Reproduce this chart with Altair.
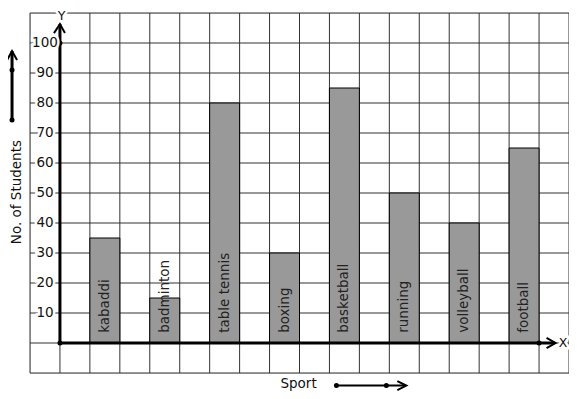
import altair as alt
import pandas as pd

sports = ["kabaddi", "badminton", "table tennis", "boxing", "basketball",
          "running", "volleyball", "football"]
students = [35, 15, 80, 30, 85, 50, 40, 65]
y_ticks = [10, 20, 30, 40, 50, 60, 70, 80, 90, 100]
grid_x = list(range(-1, 18))
grid_y = list(range(-10, 111, 10))

FONT = "DejaVu Sans"

bars = pd.DataFrame({
    "sport": sports,
    "students": students,
    "x0": [1 + 2 * i for i in range(len(sports))],
})
bars["x1"] = bars["x0"] + 1
bars["xc"] = bars["x0"] + 0.5
bars["base"] = 0
bars["ty"] = 3.4

xs = alt.Scale(domain=[-1, 17], nice=False, zero=False)
ys = alt.Scale(domain=[-10, 110], nice=False, zero=False)

X = lambda f: alt.X(f, scale=xs, axis=None)
Y = lambda f: alt.Y(f, scale=ys, axis=None)

vgrid = alt.Chart(pd.DataFrame({"g": grid_x})).mark_rule(color="#333333", strokeWidth=1).encode(
    x=X("g:Q"), y=alt.value(0), y2=alt.value(360))
hgrid = alt.Chart(pd.DataFrame({"g": grid_y})).mark_rule(color="#333333", strokeWidth=1).encode(
    y=Y("g:Q"), x=alt.value(0), x2=alt.value(539))

base = alt.Chart(bars)

bar_layer = base.mark_rect(fill="#999999", stroke="#000000", strokeWidth=1).encode(
    x=X("x0:Q"), x2="x1:Q", y=Y("base:Q"), y2="students:Q")

bar_text = base.mark_text(angle=270, align="left", baseline="middle", font=FONT,
                          fontSize=13.5, color="#222222").encode(
    x=X("xc:Q"), y=Y("ty:Q"), text="sport:N")


def line(points, width=3):
    df = pd.DataFrame(points, columns=["x", "y"])
    df["o"] = range(len(df))
    return alt.Chart(df).mark_line(color="#000000", strokeWidth=width).encode(
        x=X("x:Q"), y=Y("y:Q"), order="o:Q")


def dots(points):
    df = pd.DataFrame(points, columns=["x", "y"])
    return alt.Chart(df).mark_point(filled=True, color="#000000", size=25, opacity=1).encode(
        x=X("x:Q"), y=Y("y:Q"))


layers = [vgrid, hgrid, bar_layer, bar_text]
# y axis
layers.append(line([(0, 0), (0, 106.3)]))
layers.append(line([(-0.2, 103.3), (0, 106.3), (0.167, 103.3)], 2))
# x axis
layers.append(line([(0, 0), (16.52, 0)]))
layers.append(line([(16.25, 1.67), (16.55, 0), (16.25, -1.67)], 2))
# left legend arrow
layers.append(line([(-1.6, 74.3), (-1.6, 97.3)]))
layers.append(line([(-1.767, 94.3), (-1.6, 97.3), (-1.433, 94.3)], 2))
# bottom legend arrow
layers.append(line([(9.233, -14.2), (11.5, -14.2)], 2))
layers.append(line([(11.267, -12.7), (11.567, -14.2), (11.267, -15.7)], 2))
layers.append(dots([(0, 0), (0, 100), (16, 0), (-1.6, 91), (-1.6, 74.3),
                    (9.233, -14.2), (10.9, -14.2)]))

# y tick labels with white halo to break grid lines
ticks = pd.DataFrame({"v": y_ticks})
ticks["x"] = -0.5
tick_halo = alt.Chart(ticks).mark_text(font=FONT, fontSize=13.5, align="center",
                                       baseline="middle", stroke="white", strokeWidth=5,
                                       color="white").encode(
    x=X("x:Q"), y=Y("v:Q"), text="v:Q")
tick_text = alt.Chart(ticks).mark_text(font=FONT, fontSize=13.5, align="center",
                                       baseline="middle", color="#111111").encode(
    x=X("x:Q"), y=Y("v:Q"), text="v:Q")
layers += [tick_halo, tick_text]

# axis letters
letters = pd.DataFrame({"t": ["Y", "X"], "x": [0.05, 16.8], "y": [109.0, 0]})
letter_halo = alt.Chart(letters).mark_text(font=FONT, fontSize=12.5, baseline="middle",
                                           stroke="white", strokeWidth=5, color="white").encode(
    x=X("x:Q"), y=Y("y:Q"), text="t:N")
letter_text = alt.Chart(letters).mark_text(font=FONT, fontSize=12.5, baseline="middle",
                                           color="#111111").encode(
    x=X("x:Q"), y=Y("y:Q"), text="t:N")
layers += [letter_halo, letter_text]

# titles
ytitle = alt.Chart(pd.DataFrame({"t": ["No. of Students"], "x": [-1.43], "y": [50.3]})).mark_text(
    font=FONT, fontSize=13.5, angle=270, baseline="middle", align="center", color="#111111").encode(
    x=X("x:Q"), y=Y("y:Q"), text="t:N")
xtitle = alt.Chart(pd.DataFrame({"t": ["Sport"], "x": [7.97], "y": [-13.8]})).mark_text(
    font=FONT, fontSize=13.5, baseline="middle", align="center", color="#111111").encode(
    x=X("x:Q"), y=Y("y:Q"), text="t:N")
layers += [ytitle, xtitle]

chart = alt.layer(*layers).properties(
    width=539, height=360,
    autosize=alt.AutoSizeParams(type="none"),
    padding={"left": 22, "top": 5, "right": 0, "bottom": 18},
).configure_view(stroke=None).configure(font=FONT, background="white")

chart.save("out.html", embed_options={"renderer": "svg", "actions": False})
